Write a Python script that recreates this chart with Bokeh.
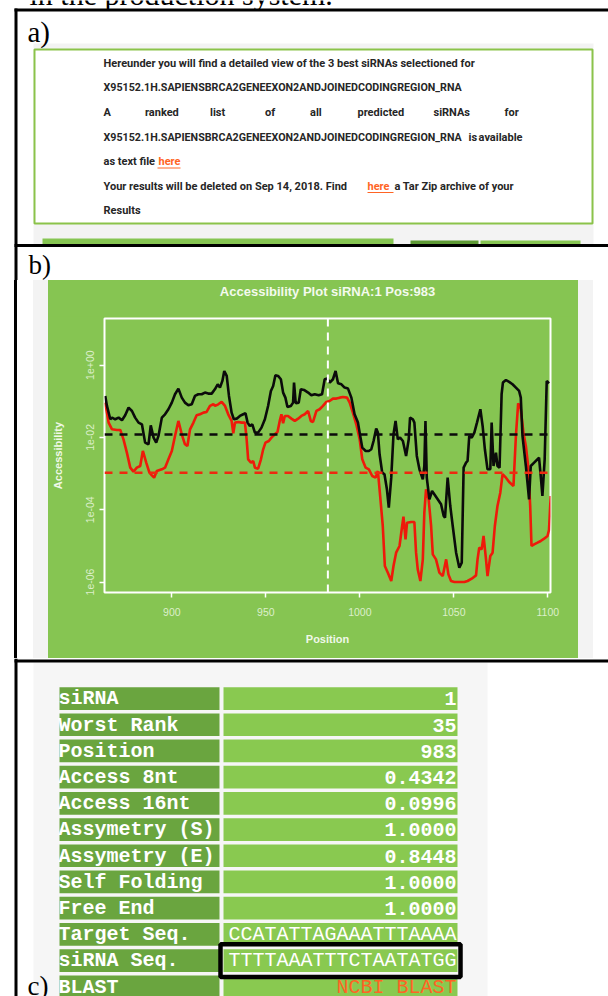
import numpy as np
from bokeh.plotting import figure
from bokeh.models import Range1d, Span, FixedTicker, CustomJSTickFormatter, Div
from bokeh.layouts import column, row
from bokeh.embed import file_html
from bokeh.resources import INLINE
from bokeh.core.properties import value

# ---------------- data ----------------
# 8nt window accessibility (black curve): position, log10(accessibility)
pos_8nt = [864.6, 865.5, 867.3, 868.2, 869.9, 871.7, 873.5, 875.2, 877.0, 878.8,
           880.5, 882.3, 884.1, 885.8, 887.6, 888.8, 890.3, 891.7, 892.9, 894.7,
           896.4, 898.2, 900.0, 901.7, 903.5, 905.3, 907.0, 908.8, 910.6, 912.3,
           914.1, 915.9, 917.6, 919.4, 921.2, 922.9,
           924.4, 925.6, 926.9, 927.9, 929.2, 930.4, 931.8, 933.0, 934.5, 936.2,
           938.0, 939.2, 940.3, 941.5, 942.8, 944.2, 945.9, 947.7, 949.5, 951.2,
           952.7, 953.9, 955.1, 956.5, 958.0, 959.2, 960.4, 961.5, 963.3, 964.5,
           965.0, 965.9, 967.5, 968.6, 970.3, 972.5, 974.2, 976.0, 978.1, 979.9,
           981.3, 982.7,
           984.0, 985.7, 987.1, 988.4, 990.2, 991.9, 993.7, 995.5, 997.2, 999.0,
           999.9, 1001.3, 1003.1, 1004.8, 1006.1, 1007.3, 1008.7, 1009.6, 1010.5, 1011.9,
           1013.1, 1014.4, 1015.4, 1016.7, 1017.9, 1019.0, 1020.2, 1021.4, 1022.9, 1024.6,
           1026.0, 1026.7, 1028.2, 1029.0, 1030.3, 1031.7, 1033.5, 1034.3, 1034.9, 1035.6,
           1037.0, 1038.4, 1039.6, 1041.4, 1043.2,
           1044.6, 1045.3, 1046.7, 1048.1, 1049.4, 1051.2, 1052.9, 1054.2, 1055.2, 1056.5,
           1057.3, 1058.2, 1059.5, 1060.9, 1062.3, 1064.1, 1065.3, 1066.5, 1067.9, 1069.4,
           1070.1, 1071.1, 1072.4, 1073.2, 1074.3, 1075.4, 1076.1, 1077.7, 1079.4, 1081.2,
           1083.0, 1084.7, 1085.6, 1086.5, 1088.3, 1090.0, 1090.9, 1092.7, 1094.5, 1095.3,
           1096.2, 1097.1, 1098.3, 1099.4, 1100.6]
log_acc_8nt = [-0.852, -1.129, -1.498, -1.452, -1.498, -1.452, -1.526, -1.387, -1.175, -1.268,
               -1.452, -1.590, -1.637, -2.144, -2.190, -1.664, -2.006, -2.144, -1.959, -1.452,
               -1.360, -1.221, -1.037, -0.806, -0.649, -0.898, -1.037, -1.111, -1.083, -0.852,
               -0.806, -0.806, -0.760, -0.788, -0.788, -0.668,
               -0.530, -0.622, -0.437, -0.161, -0.299, -0.852, -1.314, -1.498, -1.480, -1.406,
               -1.360, -1.332, -1.590, -1.683, -1.637, -1.867, -1.867, -1.729, -1.498, -1.129,
               -0.714, -0.576, -0.280, -0.299, -0.391, -0.760, -0.899, -1.157, -1.129, -1.037,
               -0.483, -1.055, -1.037, -0.668, -0.686, -0.760, -0.834, -0.806, -0.834, -0.806,
               -0.391, -0.373,
               -0.483, -0.391, -0.161, -0.502, -0.530, -0.622, -0.649, -0.899, -1.360, -1.590,
               -1.867, -2.282, -2.375, -2.375, -2.328, -2.098, -1.756, -1.867, -2.467, -2.974,
               -3.020, -3.435, -3.943, -3.113, -1.913, -1.544, -2.052, -2.006, -2.098, -2.513,
               -2.052, -1.452, -1.498, -1.590, -2.513, -2.882, -3.159, -2.790, -1.544, -3.113,
               -3.712, -3.482, -3.574, -3.712, -3.851,
               -4.174, -4.220, -3.113, -3.897, -4.451, -5.188, -5.603, -5.465, -2.836, -2.697,
               -2.651, -1.959, -2.006, -1.867, -1.590, -1.221, -1.683, -2.328, -2.882, -2.882,
               -1.590, -2.790, -2.421, -2.790, -2.836, -0.806, -0.483, -0.411, -0.465, -0.530,
               -0.622, -0.714, -0.899, -1.959, -2.790, -3.712, -2.790, -2.697, -2.605, -2.559,
               -3.066, -3.620, -2.605, -0.437, -0.502]

# 16nt window accessibility (red curve)
pos_16nt = [864.6, 866.4, 868.2, 870.8, 872.6, 874.3, 876.1, 877.9, 879.6, 881.4,
            883.2, 884.6, 886.4, 888.1, 889.4, 890.6, 892.0, 894.7, 896.4, 898.2,
            900.0, 901.7, 903.5, 905.3, 907.0, 908.3, 909.7, 911.5, 913.2, 915.0,
            916.8, 918.5, 920.3, 922.1,
            923.0, 924.7, 926.5, 928.3, 930.0, 931.8, 932.7, 933.6, 935.3, 937.1,
            938.9, 939.8, 940.6, 942.1, 943.3, 944.2, 945.9, 947.4, 948.6, 949.8,
            951.6, 953.0, 954.8, 956.2, 957.4, 958.3, 959.2, 960.1, 961.8, 963.6,
            965.4, 967.2, 968.9, 970.7, 972.5, 973.9, 975.1, 976.9, 978.6, 980.4,
            982.2, 983.9,
            985.7, 987.5, 989.3, 991.0, 993.2, 994.6, 996.3, 998.1, 999.9, 1001.3,
            1003.1, 1004.8, 1006.6, 1008.4, 1009.6, 1010.8, 1012.2, 1013.3, 1014.9, 1016.7,
            1017.9, 1019.3, 1021.1, 1022.5, 1023.2, 1024.3, 1025.1, 1027.3, 1029.0, 1029.9,
            1030.8, 1032.2, 1033.5, 1034.3, 1035.2, 1036.6, 1037.9, 1038.8, 1040.5, 1042.3,
            1044.1,
            1045.9, 1047.1, 1048.5, 1050.3, 1052.9, 1055.6, 1057.3, 1059.5, 1061.8, 1062.6,
            1063.5, 1064.8, 1065.8, 1067.1, 1067.9, 1069.4, 1070.6, 1071.8, 1073.2, 1074.7,
            1075.9, 1077.7, 1079.4, 1081.7, 1083.0, 1084.2, 1085.6, 1087.0, 1088.3, 1089.5,
            1090.6, 1091.3, 1092.7, 1094.5, 1096.2, 1098.0, 1099.8, 1100.6, 1101.5]
log_acc_16nt = [-1.037, -1.590, -1.775, -1.793, -1.793, -2.052, -2.421, -2.836, -2.946, -2.836,
                -2.790, -2.375, -2.697, -2.974, -3.048, -3.113, -2.929, -2.883, -2.836, -2.606,
                -2.375, -1.959, -1.544, -1.913, -2.190, -2.236, -1.775, -1.590, -1.387, -1.360,
                -1.314, -1.295, -1.129, -1.083,
                -1.129, -1.083, -1.018, -1.129, -1.360, -1.544, -1.886, -1.590, -1.572, -1.590,
                -1.590, -2.052, -2.606, -2.697, -2.651, -2.836, -2.864, -2.606, -2.329, -2.144,
                -2.098, -2.006, -1.913, -1.849, -1.544, -1.360, -1.609, -1.406, -1.406, -1.480,
                -1.544, -1.480, -1.406, -1.360, -1.268, -1.544, -1.572, -1.268, -1.221, -1.129,
                -1.018, -0.991,
                -0.926, -0.926, -0.899, -0.880, -0.899, -1.037, -1.314, -1.637, -2.052, -2.606,
                -2.836, -2.883, -3.067, -3.113, -2.929, -3.620, -4.450, -5.557, -5.742, -5.972,
                -5.557, -5.188, -5.004, -4.450, -4.192, -4.819, -4.358, -4.339, -4.339, -5.188,
                -5.650, -5.972, -5.373, -4.081, -3.435, -3.712, -4.450, -5.234, -5.373, -5.742,
                -5.835,
                -5.373, -5.788, -5.972, -6.000, -6.000, -6.000, -5.972, -5.908, -5.817, -5.373,
                -5.050, -5.096, -4.727, -5.373, -5.835, -5.280, -5.188, -4.450, -3.897, -3.528,
                -3.020, -3.113, -3.232, -3.343, -1.959, -1.057, -1.221, -1.867, -2.236, -2.790,
                -3.897, -5.004, -4.958, -4.911, -4.865, -4.801, -4.727, -4.561, -3.620]

threshold_8nt = 0.0121
threshold_16nt = 0.00105
site_position = 983
x_ticks = [900, 950, 1000, 1050, 1100]
y_ticks = [1e-6, 1e-4, 1e-2, 1.0]
plot_title = "Accessibility Plot siRNA:1 Pos:983"

table_labels = ["siRNA", "Worst Rank", "Position", "Access 8nt", "Access 16nt",
                "Assymetry (S)", "Assymetry (E)", "Self Folding", "Free End",
                "Target Seq.", "siRNA Seq.", "BLAST"]
table_values = ["1", "35", "983", "0.4342", "0.0996", "1.0000", "0.8448", "1.0000",
                "1.0000", "CCATATTAGAAATTTAAAA", "TTTTAAATTTCTAATATGG", "NCBI BLAST"]

# ---------------- styles ----------------
GREEN = "#86c552"
DARK_GREEN = "#6aa53f"
LIGHT_GREEN = "#89c950"
PAGE_GRAY = "#f3f3f3"
LINK = "#ff6424"
SERIF = "Liberation Serif"
W = 608


def canvas(x0, x1, y0, y1):
    p = figure(width=int(round(x1 - x0)), height=int(round(y1 - y0)),
               x_range=Range1d(x0, x1), y_range=Range1d(y1, y0),
               x_axis_type=None, y_axis_type=None,
               output_backend="svg", toolbar_location=None, min_border=0,
               outline_line_color=None, background_fill_color="white",
               border_fill_color="white")
    return p


def txt(p, x, y, s, size, color, font="Roboto", style="bold", align="left",
        baseline="middle"):
    p.text(x=[x], y=[y], text=[s], text_font=value(font),
           text_font_size=value(size), text_font_style=style, text_color=color,
           text_align=align, text_baseline=baseline)


def hline(p, x0, x1, y, w=3, color="black"):
    p.segment(x0=[x0], y0=[y], x1=[x1], y1=[y], line_color=color, line_width=w)


def vline(p, x, y0, y1, w=3, color="black"):
    p.segment(x0=[x], y0=[y0], x1=[x], y1=[y1], line_color=color, line_width=w)


# ---------------- panel a (and top of panel b) ----------------
pa = canvas(0, W, 0, 280)
txt(pa, 29, -6, "in the production system.", "30px", "black", font=SERIF, style="normal")
pa.quad(left=[33], right=[593], top=[43], bottom=[245], fill_color=PAGE_GRAY, line_color=None)
pa.quad(left=[34], right=[592], top=[49], bottom=[223], fill_color="white",
        line_color="#8bc34a", line_width=2)
TXT = "#262626"
FS = "11px"
FS_ID = "10.7px"
txt(pa, 103, 63, "Hereunder you will find a detailed view of the 3 best siRNAs selectioned for",
    FS, TXT)
txt(pa, 103, 87, "X95152.1H.SAPIENSBRCA2GENEEXON2ANDJOINEDCODINGREGION_RNA", FS_ID, TXT)
for wx, w in zip([103, 144.5, 209.5, 264.5, 309.5, 357, 433, 504],
                 ["A", "ranked", "list", "of", "all", "predicted", "siRNAs", "for"]):
    txt(pa, wx, 112, w, FS, TXT)
txt(pa, 103, 136.5, "X95152.1H.SAPIENSBRCA2GENEEXON2ANDJOINEDCODINGREGION_RNA", FS_ID, TXT)
txt(pa, 468, 136.5, "is", FS, TXT)
txt(pa, 522, 136.5, "available", FS, TXT, align="right")
txt(pa, 103, 161, "as text file", FS, TXT)
txt(pa, 158, 161, "here", FS, LINK)
hline(pa, 157, 180, 167.5, w=1, color=LINK)
txt(pa, 103, 185.5, "Your results will be deleted on Sep 14, 2018. Find", FS, TXT)
txt(pa, 367, 185.5, "here", FS, LINK)
hline(pa, 367, 393, 192, w=1, color=LINK)
txt(pa, 394, 185.5, "a Tar Zip archive of your", FS, TXT)
txt(pa, 103, 210, "Results", FS, TXT)
# partially visible web-page elements below the box
pa.quad(left=[42], right=[393], top=[238], bottom=[245], fill_color=GREEN, line_color=None)
pa.quad(left=[410], right=[478], top=[240], bottom=[245], fill_color="#5e9a35", line_color=None)
pa.quad(left=[480], right=[580], top=[240], bottom=[245], fill_color=GREEN, line_color=None)
# panel borders
hline(pa, 14, W, 9.5)
vline(pa, 15.5, 8, 280)
hline(pa, 14, W, 245)
txt(pa, 27, 31, "a)", "29px", "black", font=SERIF, style="normal")
txt(pa, 28, 264, "b)", "27px", "black", font=SERIF, style="normal")

# ---------------- panel b : accessibility plot ----------------
side_left = Div(text="", width=48, height=378, margin=0, styles={
    "background": "linear-gradient(to right, #ffffff 0px, #ffffff 14px, #000000 14px, "
                  "#000000 17px, #ffffff 17px, #ffffff 33px, " + PAGE_GRAY + " 33px, "
                  + PAGE_GRAY + " 48px)"})
side_right = Div(text="", width=30, height=378, margin=0, styles={
    "background": "linear-gradient(to right, " + PAGE_GRAY + " 0px, " + PAGE_GRAY
                  + " 15px, #ffffff 15px, #ffffff 30px)"})

x_lo, x_hi = 864.2, 1101.4

# title strip above the plot (same horizontal frame as the plot); green comes from CSS
pt = figure(width=530, height=36, x_range=Range1d(x_lo, x_hi), y_range=Range1d(316, 280),
            x_axis_type=None, y_axis_type=None, output_backend="svg", toolbar_location=None,
            min_border_left=55, min_border_right=28, min_border_top=0, min_border_bottom=0,
            background_fill_color=None, border_fill_color=None, outline_line_color=None,
            styles={"background": GREEN})
pt.text(x=[(x_lo + x_hi) / 2], y=[291], text=[plot_title], text_align="center",
        text_baseline="middle", text_color="#f4faee", text_font=value("Liberation Sans"),
        text_font_size=value("13px"), text_font_style="bold")

p = figure(width=530, height=342, x_range=Range1d(x_lo, x_hi),
           y_range=Range1d(10 ** -6.29, 10 ** 1.29), y_axis_type="log",
           output_backend="svg", toolbar_location=None, title=None,
           min_border_left=55, min_border_right=28, min_border_top=2, min_border_bottom=66,
           background_fill_color=GREEN, border_fill_color=GREEN,
           outline_line_color="white", outline_line_width=2,
           styles={"background": GREEN})
p.grid.visible = False

acc8 = [10 ** v for v in log_acc_8nt]
acc16 = [10 ** v for v in log_acc_16nt]
p.line(pos_16nt, acc16, line_color="#ee1a0a", line_width=2.6)
p.line(pos_8nt, acc8, line_color="#0b0b0b", line_width=2.6)

p.add_layout(Span(location=threshold_8nt, dimension="width", line_color="#0b0b0b",
                  line_width=2.5, line_dash="8 7"))
p.add_layout(Span(location=threshold_16nt, dimension="width", line_color="#ee2a10",
                  line_width=2.5, line_dash="8 7"))
p.add_layout(Span(location=site_position, dimension="height", line_color="white",
                  line_width=2, line_dash="8 6"))

p.xaxis.ticker = FixedTicker(ticks=x_ticks)
p.yaxis.ticker = FixedTicker(ticks=y_ticks)
p.yaxis.formatter = CustomJSTickFormatter(code="""
const e = Math.round(Math.log10(tick));
const s = e < 0 ? '-' : '+';
const a = Math.abs(e);
return '1e' + s + (a < 10 ? '0' : '') + a;
""")
for ax in (p.xaxis[0], p.yaxis[0]):
    ax.axis_line_color = None
    ax.major_tick_line_color = "white"
    ax.major_tick_line_width = 1.5
    ax.major_tick_out = 5
    ax.major_tick_in = 0
    ax.minor_tick_line_color = None
    ax.major_label_text_color = "#dcefca"
    ax.major_label_text_font = "Liberation Sans"
    ax.major_label_text_font_size = "10.5px"
    ax.axis_label_text_color = "#f0f8e8"
    ax.axis_label_text_font = "Liberation Sans"
    ax.axis_label_text_font_size = "11px"
    ax.axis_label_text_font_style = "bold"
p.xaxis.axis_label = "Position"
p.yaxis.axis_label = "Accessibility"
p.xaxis.major_label_standoff = 10
p.xaxis.axis_label_standoff = 14
p.yaxis.major_label_standoff = 5
p.yaxis.axis_label_standoff = 20
p.yaxis.major_label_orientation = "vertical"

# ---------------- panel c : result table ----------------
pc = canvas(0, W, 658, 996)
pc.quad(left=[33], right=[487], top=[662], bottom=[996], fill_color="#f6f6f6", line_color=None)
hline(pc, 14, W, 660.5)
vline(pc, 15.5, 658, 996)

n = len(table_labels)
row_top = [686.7 + 26.2 * i for i in range(n)]
row_bot = [t + 22.7 for t in row_top]
row_mid = [t + 11.6 for t in row_top]
pc.quad(left=[59] * n, right=[219] * n, top=row_top, bottom=row_bot,
        fill_color=DARK_GREEN, line_color=None)
pc.quad(left=[223] * n, right=[457] * n, top=row_top, bottom=row_bot,
        fill_color=LIGHT_GREEN, line_color=None)
pc.text(x=[58] * n, y=row_mid, text=table_labels, text_font=value("Liberation Mono"),
        text_font_size=value("20px"), text_font_style="bold", text_color="white",
        text_align="left", text_baseline="middle")
num_idx = list(range(9))
pc.text(x=[456] * len(num_idx), y=[row_mid[i] for i in num_idx],
        text=[table_values[i] for i in num_idx], text_font=value("Liberation Mono"),
        text_font_size=value("20px"), text_font_style="bold", text_color="white",
        text_align="right", text_baseline="middle")
pc.text(x=[456, 456], y=[row_mid[9], row_mid[10]], text=[table_values[9], table_values[10]],
        text_font=value("Liberation Mono"), text_font_size=value("20px"),
        text_font_style="normal", text_color="white", text_align="right",
        text_baseline="middle")
pc.text(x=[456], y=[row_mid[11]], text=[table_values[11]],
        text_font=value("Liberation Mono"), text_font_size=value("20px"),
        text_font_style="normal", text_color=LINK, text_align="right",
        text_baseline="middle")
# highlight box around the siRNA sequence
pc.quad(left=[220], right=[460], top=[row_top[10] - 5], bottom=[row_bot[10] + 5],
        fill_color=None, line_color="black", line_width=4.5)
txt(pc, 27, 985, "c)", "27px", "black", font=SERIF, style="normal")

plot_stack = column(pt, p, spacing=0, styles={"background": GREEN})
layout = column(pa, row(side_left, plot_stack, side_right, spacing=0), pc, spacing=0)
open("out.html", "w").write(file_html(layout, INLINE))
